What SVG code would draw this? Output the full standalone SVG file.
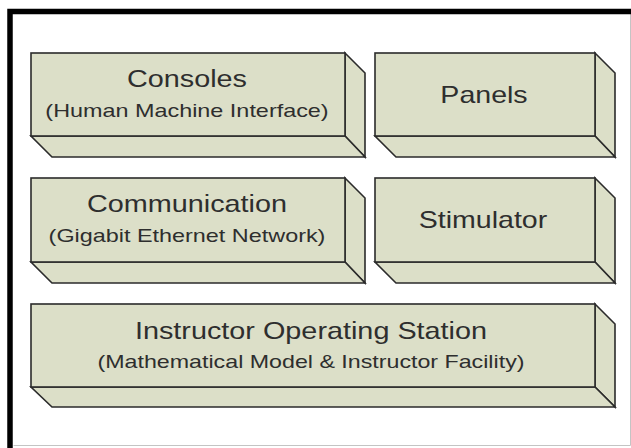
<svg xmlns="http://www.w3.org/2000/svg" width="631" height="448" viewBox="0 0 631 448">
  <defs>
    <style>
      .face { fill: #dcdfc8; stroke: #2b2b2b; stroke-width: 1.6; stroke-linejoin: miter; }
      .title { font-family: "Liberation Sans", Arial, sans-serif; font-size: 24px; fill: #2e2e2e; text-anchor: middle; }
      .sub { font-family: "Liberation Sans", Arial, sans-serif; font-size: 18px; fill: #2e2e2e; text-anchor: middle; }
    </style>
  </defs>

  <rect x="0" y="0" width="631" height="448" fill="#ffffff"/>

  <!-- outer frame: heavy top/left edges, light bottom/right edges -->
  <path d="M13.5,445.5 H630.5 V14" fill="none" stroke="#c4c4c4" stroke-width="1"/>
  <path d="M10,448 V11.5 H631" fill="none" stroke="#000000" stroke-width="5.5"/>

  <!-- Consoles -->
  <g id="consoles">
    <polygon class="face" points="345,53 365,73 365,157 345,136"/>
    <polygon class="face" points="31,136 345,136 365,157 52,157"/>
    <rect class="face" x="31" y="53" width="314" height="83"/>
    <text class="title" transform="matrix(1.2,0,0,1,187,0)" x="0" y="87">Consoles</text>
    <text class="sub" transform="matrix(1.3,0,0,1,187,0)" x="0" y="117">(Human Machine Interface)</text>
  </g>

  <!-- Panels -->
  <g id="panels">
    <polygon class="face" points="595,53 615,73 615,157 595,136"/>
    <polygon class="face" points="375,136 595,136 615,157 396,157"/>
    <rect class="face" x="375" y="53" width="220" height="83"/>
    <text class="title" transform="matrix(1.19,0,0,1,484,0)" x="0" y="103">Panels</text>
  </g>

  <!-- Communication -->
  <g id="communication">
    <polygon class="face" points="345,178 365,198 365,283 345,262"/>
    <polygon class="face" points="31,262 345,262 365,283 52,283"/>
    <rect class="face" x="31" y="178" width="314" height="84"/>
    <text class="title" transform="matrix(1.2,0,0,1,187,0)" x="0" y="212">Communication</text>
    <text class="sub" transform="matrix(1.3,0,0,1,187,0)" x="0" y="242">(Gigabit Ethernet Network)</text>
  </g>

  <!-- Stimulator -->
  <g id="stimulator">
    <polygon class="face" points="595,178 615,198 615,283 595,262"/>
    <polygon class="face" points="375,262 595,262 615,283 396,283"/>
    <rect class="face" x="375" y="178" width="220" height="84"/>
    <text class="title" transform="matrix(1.19,0,0,1,483,0)" x="0" y="228">Stimulator</text>
  </g>

  <!-- Instructor Operating Station -->
  <g id="ios">
    <polygon class="face" points="595,304 615,324 615,407 595,387"/>
    <polygon class="face" points="31,387 595,387 615,407 52,407"/>
    <rect class="face" x="31" y="304" width="564" height="83"/>
    <text class="title" transform="matrix(1.2,0,0,1,311,0)" x="0" y="339">Instructor Operating Station</text>
    <text class="sub" transform="matrix(1.29,0,0,1,311,0)" x="0" y="368">(Mathematical Model &amp; Instructor Facility)</text>
  </g>

  <!-- no connectors in this layered stack -->
  <g id="connectors"/>
</svg>
